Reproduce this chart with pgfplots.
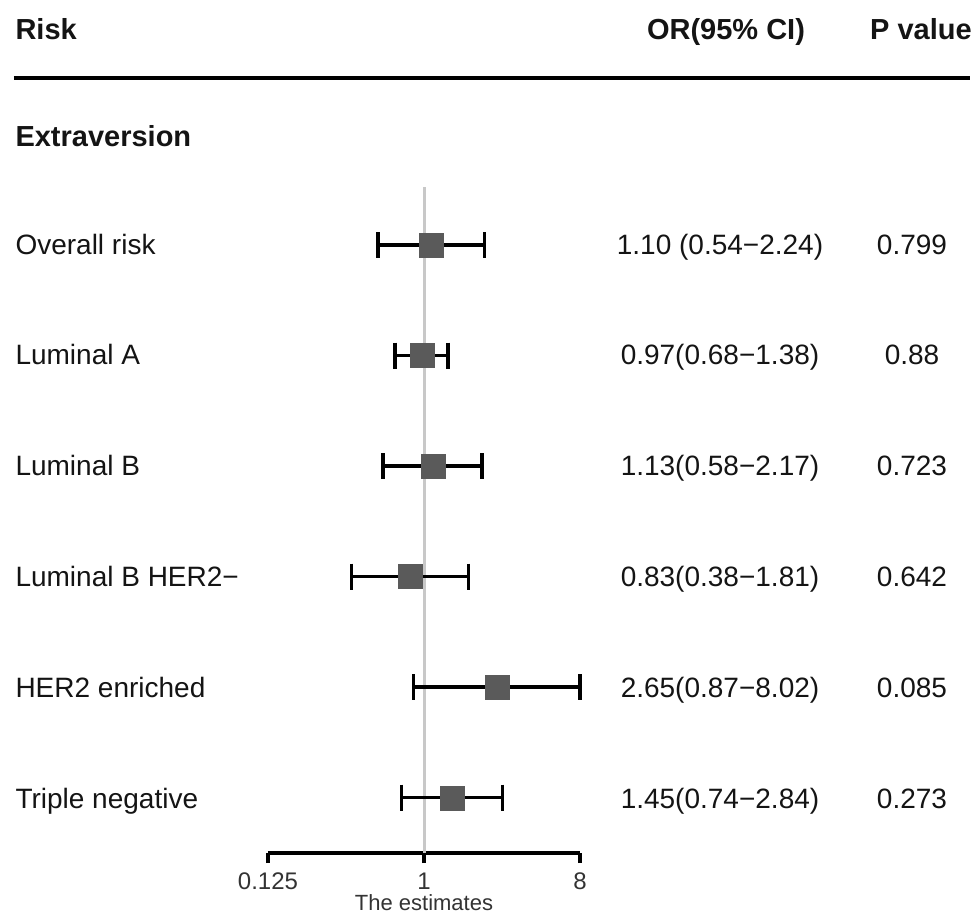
\documentclass[border=0pt]{standalone}
\usepackage{pgfplots}
\pgfplotsset{compat=1.18}
\usepackage{fontspec}
\setmainfont{Liberation Sans}
\definecolor{boxgray}{HTML}{5A5A5A}
\definecolor{refline}{HTML}{C8C8C8}

\begin{document}
\begin{tikzpicture}
\begin{axis}[
    scale only axis,
    width=312pt, height=666pt,
    xmode=log, log basis x=2,
    xmin=0.125, xmax=8,
    ymin=0.5, ymax=6.525,
    axis x line*=bottom, axis y line=none,
    x axis line style={-, line width=3.5pt},
    xtick={0.125,1,8}, xticklabels={0.125,1,8},
    xtick align=outside, major tick length=10pt,
    tick style={black, line width=3.5pt},
    ytick=\empty,
    tick label style={font=\fontsize{24}{28}\selectfont, text=black!80},
    xticklabel style={yshift=-6pt},
    /pgf/number format/assume math mode=true,
    xlabel={The estimates},
    xlabel style={font=\fontsize{22}{26}\selectfont, text=black!80,
                  at={(axis description cs:0.5,0)}, anchor=center, yshift=-50pt},
    clip=false,
]
% reference line at OR = 1
\addplot[refline, line width=3pt] coordinates {(1,0.5) (1,6.525)};

% confidence intervals (row 6 = Overall risk ... row 1 = Triple negative)
\pgfplotsset{cistyle/.style={black, line width=3.5pt, mark=|, mark size=13pt, mark options={solid, line width=3.5pt}}}
\addplot[cistyle] coordinates {(0.54,6) (2.24,6)};
\addplot[cistyle] coordinates {(0.68,5) (1.38,5)};
\addplot[cistyle] coordinates {(0.58,4) (2.17,4)};
\addplot[cistyle] coordinates {(0.38,3) (1.81,3)};
\addplot[cistyle] coordinates {(0.87,2) (8.02,2)};
\addplot[cistyle] coordinates {(0.74,1) (2.84,1)};

% point estimates
\addplot[only marks, mark=square*, mark size=12pt, mark options={fill=boxgray, draw=boxgray}]
  coordinates {(1.10,6) (0.97,5) (1.13,4) (0.83,3) (2.65,2) (1.45,1)};
\end{axis}

\begin{scope}[shift={(-268pt,853pt)}, x=1pt, y=-1pt, font=\fontsize{28}{32}\selectfont, text=black!92]
  % header (baselines about 10px below the visual centre)
  \tikzset{hd/.style={font=\fontsize{29}{33}\selectfont\bfseries}}
  \node[hd, anchor=base west] at (12,40) {Risk};
  \node[hd, anchor=base] at (726,40) {OR(95\% CI)};
  \node[hd, anchor=base] at (921,40) {P value};
  \draw[line width=4.5pt, black] (14,78) -- (970,78);
  \node[hd, anchor=base west] at (12,147) {Extraversion};

  % rows
  \foreach \y/\lab/\orci/\p in {
      245/Overall risk/1.10 (0.54−2.24)/0.799,
      355/Luminal A/0.97(0.68−1.38)/0.88,
      466/Luminal B/1.13(0.58−2.17)/0.723,
      577/Luminal B HER2−/0.83(0.38−1.81)/0.642,
      688/HER2 enriched/2.65(0.87−8.02)/0.085,
      798/Triple negative/1.45(0.74−2.84)/0.273} {
    \node[anchor=base west] at (12,\y+10) {\lab};
    \node[anchor=base] at (720,\y+10) {\orci};
    \node[anchor=base] at (912,\y+10) {\p};
  }

  \pgfresetboundingbox
  \path (0,0) rectangle (975,919);
\end{scope}
\end{tikzpicture}
\end{document}
